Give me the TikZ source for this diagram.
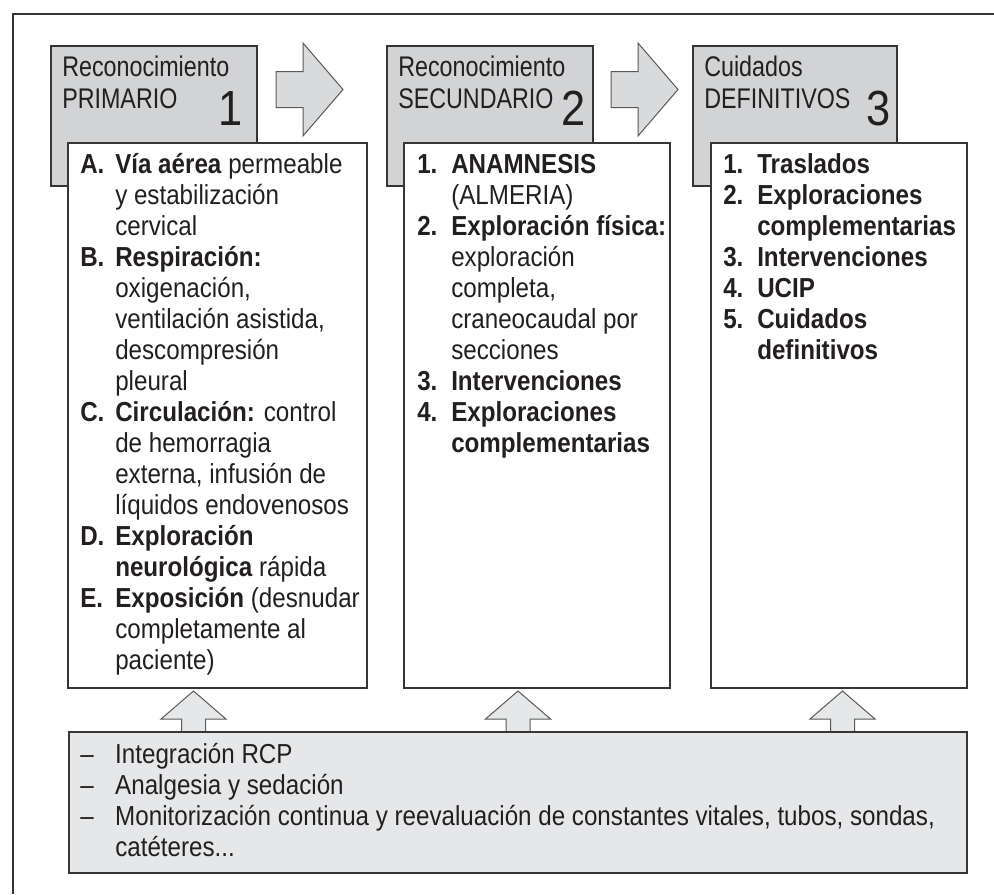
\documentclass[tikz,border=0pt]{standalone}
\usepackage{fontspec}
\setmainfont{Liberation Sans}[FakeStretch=0.88]
\newfontfamily\hdrfont{Liberation Sans}[FakeStretch=0.82]
\usepackage{array}
\definecolor{hdrgrey}{HTML}{D1D3D4}
\definecolor{botgrey}{HTML}{E6E7E8}
\definecolor{arrgrey}{HTML}{D9DADB}
\definecolor{ink}{HTML}{231F20}
\definecolor{edge}{HTML}{363636}
\definecolor{aedge}{HTML}{5A5A5A}
\newcommand{\px}{0.75pt}
\newcommand{\bodysize}{\fontsize{20.6}{23.25}\selectfont}
\newcommand{\hdrsize}{\hdrfont\fontsize{21.3}{24}\selectfont}
\newcommand{\numsize}{\fontsize{37}{37}\selectfont}
\begin{document}
\begin{tikzpicture}[x=0.75pt,y=-0.75pt,
  hdrbox/.style={draw=edge, fill=hdrgrey, line width=0.9pt, inner sep=0pt, outer sep=0pt, minimum height={140*\px}},
  whitebox/.style={draw=edge, fill=white, line width=0.9pt, inner sep=0pt, outer sep=0pt, minimum height={545*\px}},
  botbox/.style={draw=edge, fill=botgrey, line width=0.9pt, inner sep=0pt, outer sep=0pt},
  arrstyle/.style={draw=aedge, line width=0.75pt, line join=miter},
  hdrtext/.style={anchor=base west, inner sep=0pt, text=ink, font=\hdrsize, align=left},
  numtext/.style={anchor=base east, inner sep=0pt, text=ink, font=\numsize},
  listtext/.style={anchor=base west, inner sep=0pt, text=ink, font=\bodysize},
  pics/rarrow/.style={code={\draw[arrstyle, fill=arrgrey] (0,-18) -- (27,-18) -- (27,-46.5) -- (67,0) -- (27,46.5) -- (27,18) -- (0,18) -- cycle;}},
  pics/uarrow/.style={code={\draw[arrstyle, fill=botgrey] (0,0) -- (32.5,28) -- (12,28) -- (12,41) -- (-12,41) -- (-12,28) -- (-32.5,28) -- cycle;}}
]
% canvas and frame
\path[fill=white] (0,0) rectangle (994,894);
\useasboundingbox (0,0) rectangle (994,894);
\coordinate (fa) at (994,14);
\coordinate (fb) at (13,14);
\coordinate (fc) at (13,894);
\draw[edge, line width=1.1pt] (fa) -- (fb) -- (fc);

% header boxes
\node (h1) [hdrbox, minimum width={206*\px}] at (154,116) {};
\node (h2) [hdrbox, minimum width={206*\px}] at (490,116) {};
\node (h3) [hdrbox, minimum width={204*\px}] at (795,116) {};

\node (h1t) [hdrtext] at (62,108) {Reconocimiento\\PRIMARIO};
\node (h2t) [hdrtext] at (398,108) {Reconocimiento\\SECUNDARIO};
\node (h3t) [hdrtext] at (704,108) {Cuidados\\DEFINITIVOS};
\node (n1) [numtext] at (243,125) {1};
\node (n2) [numtext] at (586,125) {2};
\node (n3) [numtext] at (891,125) {3};

% right arrows
\pic at (276,89.5) {rarrow};
\pic at (611,89.5) {rarrow};

% white boxes
\node (b1) [whitebox, minimum width={299*\px}] at (217.5,415.5) {};
\node (b2) [whitebox, minimum width={266*\px}] at (537,415.5) {};
\node (b3) [whitebox, minimum width={256*\px}] at (839,415.5) {};

\node (l1) [listtext] at (80,173) {\bodysize\begin{tabular}[t]{@{}p{26.25pt}@{}l@{}}
\textbf{A.} & \textbf{Vía aérea} permeable\\
 & y estabilización\\
 & cervical\\
\textbf{B.} & \textbf{Respiración:}\\
 & oxigenación,\\
 & ventilación asistida,\\
 & descompresión\\
 & pleural\\
\textbf{C.} & \textbf{Circulación:} control\\
 & de hemorragia\\
 & externa, infusión de\\
 & líquidos endovenosos\\
\textbf{D.} & \textbf{Exploración}\\
 & \textbf{neurológica} rápida\\
\textbf{E.} & \textbf{Exposición} (desnudar\\
 & completamente al\\
 & paciente)
\end{tabular}};

\node (l2) [listtext] at (417,173) {\bodysize\begin{tabular}[t]{@{}p{25.5pt}@{}l@{}}
\textbf{1.} & \textbf{ANAMNESIS}\\
 & (ALMERIA)\\
\textbf{2.} & \textbf{Exploración física:}\\
 & exploración\\
 & completa,\\
 & craneocaudal por\\
 & secciones\\
\textbf{3.} & \textbf{Intervenciones}\\
\textbf{4.} & \textbf{Exploraciones}\\
 & \textbf{complementarias}
\end{tabular}};

\node (l3) [listtext] at (723,173) {\bodysize\begin{tabular}[t]{@{}p{25.5pt}@{}l@{}}
\textbf{1.} & \textbf{Traslados}\\
\textbf{2.} & \textbf{Exploraciones}\\
 & \textbf{complementarias}\\
\textbf{3.} & \textbf{Intervenciones}\\
\textbf{4.} & \textbf{UCIP}\\
\textbf{5.} & \textbf{Cuidados}\\
 & \textbf{definitivos}
\end{tabular}};

% up arrows
\pic at (193.5,691) {uarrow};
\pic at (518,691) {uarrow};
\pic at (842.5,691) {uarrow};

% bottom box
\node (bot) [botbox, minimum width={898*\px}, minimum height={141*\px}] at (518,802.5) {};
\node (l4) [listtext] at (80,763) {\bodysize\begin{tabular}[t]{@{}p{26.25pt}@{}l@{}}
– & Integración RCP\\
– & Analgesia y sedación\\
– & Monitorización continua y reevaluación de constantes vitales, tubos, sondas,\\
 & catéteres...
\end{tabular}};
\end{tikzpicture}
\end{document}
